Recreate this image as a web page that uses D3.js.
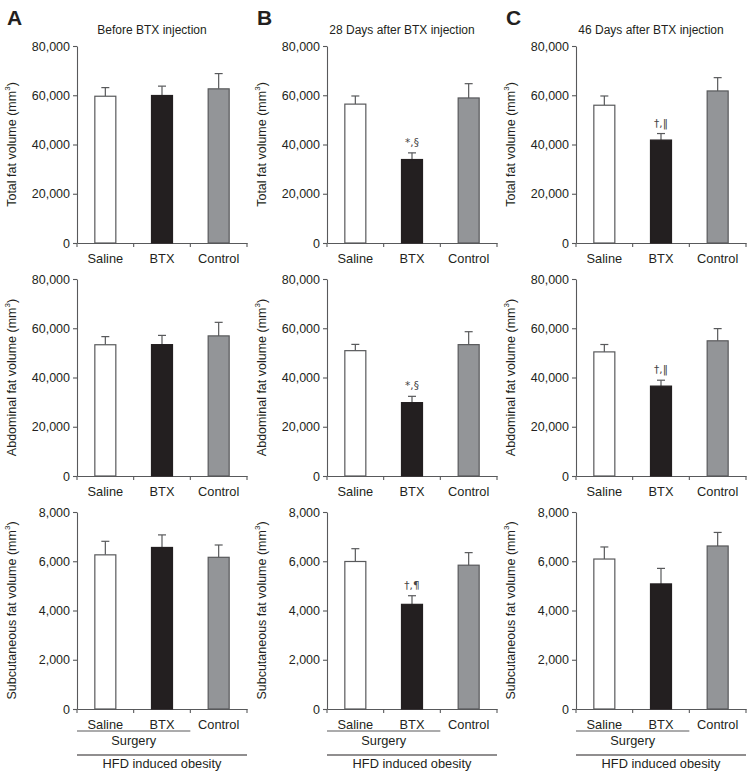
<!DOCTYPE html>
<html><head><meta charset="utf-8">
<script src="https://cdn.jsdelivr.net/npm/d3@7"></script>
<style>
body{margin:0;background:#fff;}
text{font-family:"Liberation Sans",Arial,Helvetica,sans-serif;fill:#231f20;}
</style></head>
<body><svg id="chart" width="753" height="778"></svg>
<script>
const categories = ["Saline","BTX","Control"];
const panelLetters = ["A","B","C"];
const panelTitles = ["Before BTX injection","28 Days after BTX injection","46 Days after BTX injection"];
const rowLabels = ["Total fat volume","Abdominal fat volume","Subcutaneous fat volume"];
const rowTicks = [[0,20000,40000,60000,80000],[0,20000,40000,60000,80000],[0,2000,4000,6000,8000]];
// means [panel][category]
const totalMean = [[59600,59900,62600],[56400,33900,58900],[55950,41800,61750]];
const totalErr  = [[63100,63700,68800],[59700,36600,64700],[59700,44450,67150]];
const abdMean   = [[53300,53350,56900],[50900,29800,53350],[50400,36500,54900]];
const abdErr    = [[56600,57100,62400],[53450,32350,58600],[53400,38900,59850]];
const subMean   = [[6260,6560,6160],[5990,4250,5840],[6090,5080,6620]];
const subErr    = [[6810,7070,6660],[6510,4600,6350],[6580,5710,7170]];
// significance marks [panel][row][category]
const sigMarksRow = [[["","",""],["","",""],["","",""]],
                     [["","*,§",""],["","*,§",""],["","†,¶",""]],
                     [["","†,\u2016",""],["","†,\u2016",""],["","",""]]];
const groupLabels = ["Surgery","HFD induced obesity"];

const rowMeans = [totalMean, abdMean, subMean];
const rowErrs = [totalErr, abdErr, subErr];
const fills = ["#ffffff","#231f20","#939598"];
const strokes = ["#58595b","#231f20","#58595b"];
const axisCol = "#58595b";

const svg = d3.select("#chart");
const colX = [77, 327, 576];
const rowY = [[46,243],[279,476],[512,709]];
const W = 170;

for (let p=0;p<3;p++){
  const ox = colX[p];
  svg.append("text").attr("x", ox-70).attr("y", 25).attr("font-size", 21).attr("font-weight","bold")
     .style("font-family","'Liberation Sans Narrow','Liberation Sans',Arial,sans-serif").text(panelLetters[p]);
  svg.append("text").attr("x", ox+W/2-10).attr("y", 34).attr("text-anchor","middle").attr("font-size",12)
     .text(panelTitles[p]);
  for (let r=0;r<3;r++){
    const [yt,yb] = rowY[r];
    const ticks = rowTicks[r];
    const y = d3.scaleLinear().domain([0, ticks[ticks.length-1]]).range([yb, yt]);
    const x = d3.scaleBand().domain(categories).range([ox, ox+W]);
    const g = svg.append("g");
    // y axis
    const ya = g.append("g").attr("transform",`translate(${ox},0)`)
      .call(d3.axisLeft(y).tickValues(ticks).tickFormat(d3.format(",")).tickSize(4).tickPadding(3).tickSizeOuter(0));
    ya.select(".domain").attr("stroke",axisCol).attr("stroke-width",1.1);
    ya.selectAll(".tick line").attr("stroke",axisCol).attr("stroke-width",1.1);
    ya.selectAll(".tick text").attr("font-size",12.5).attr("fill","#231f20")
      .style("font-family","'Liberation Sans',Arial,sans-serif");
    // x axis
    const xa = g.append("g").attr("transform",`translate(0,${yb})`)
      .call(d3.axisBottom(x).tickSize(0).tickPadding(8));
    xa.select(".domain").attr("stroke",axisCol).attr("stroke-width",1.1);
    xa.selectAll(".tick text").attr("font-size",12.8).attr("fill","#231f20").attr("dy","0.9em")
      .style("font-family","'Liberation Sans',Arial,sans-serif");
    const bounds = categories.map(c=>x(c)).concat([x(categories[2])+x.bandwidth()]);
    g.selectAll("line.xt").data(bounds).join("line").attr("class","xt")
      .attr("x1",d=>d).attr("x2",d=>d).attr("y1",yb).attr("y2",yb+4)
      .attr("stroke",axisCol).attr("stroke-width",1.1);
    // bars
    const bw = 21;
    const means = rowMeans[r][p], errs = rowErrs[r][p];
    categories.forEach((c,i)=>{
      const cx = x(c)+x.bandwidth()/2;
      g.append("line").attr("x1",cx).attr("x2",cx).attr("y1",y(means[i])).attr("y2",y(errs[i]))
        .attr("stroke",axisCol).attr("stroke-width",1.2);
      g.append("line").attr("x1",cx-4).attr("x2",cx+4).attr("y1",y(errs[i])).attr("y2",y(errs[i]))
        .attr("stroke",axisCol).attr("stroke-width",1.2);
      g.append("rect").attr("x",cx-bw/2).attr("y",y(means[i])).attr("width",bw)
        .attr("height",yb-y(means[i])).attr("fill",fills[i]).attr("stroke",strokes[i]).attr("stroke-width",1.2);
      const m = sigMarksRow[p][r][i];
      if (m) g.append("text").attr("x",cx).attr("y",y(errs[i])-7).attr("text-anchor","middle")
        .attr("font-size",10.5).style("font-family","'DejaVu Sans',sans-serif").style("fill","#444").text(m);
    });
    // y label
    const lx = ox-61, ly = (yt+yb)/2;
    const t = g.append("text").attr("transform",`translate(${lx},${ly}) rotate(-90)`)
      .attr("text-anchor","middle").attr("font-size",12.5);
    t.append("tspan").text(rowLabels[r]+" (mm");
    t.append("tspan").attr("font-size",8).attr("dy",-6).text("3");
    t.append("tspan").attr("dy",6).text(")");
    if (r===2){
      const sx0 = x(categories[0]), sx1 = x(categories[1])+x.bandwidth();
      g.append("line").attr("x1",sx0).attr("x2",sx1).attr("y1",yb+22).attr("y2",yb+22)
        .attr("stroke",axisCol).attr("stroke-width",1.1);
      g.append("text").attr("x",(sx0+sx1)/2).attr("y",yb+36).attr("text-anchor","middle")
        .attr("font-size",12.8).text(groupLabels[0]);
      g.append("line").attr("x1",ox).attr("x2",ox+W).attr("y1",yb+46).attr("y2",yb+46)
        .attr("stroke","#231f20").attr("stroke-width",1.1);
      g.append("text").attr("x",ox+W/2).attr("y",yb+59).attr("text-anchor","middle")
        .attr("font-size",12.8).text(groupLabels[1]);
    }
  }
}
</script></body></html>
